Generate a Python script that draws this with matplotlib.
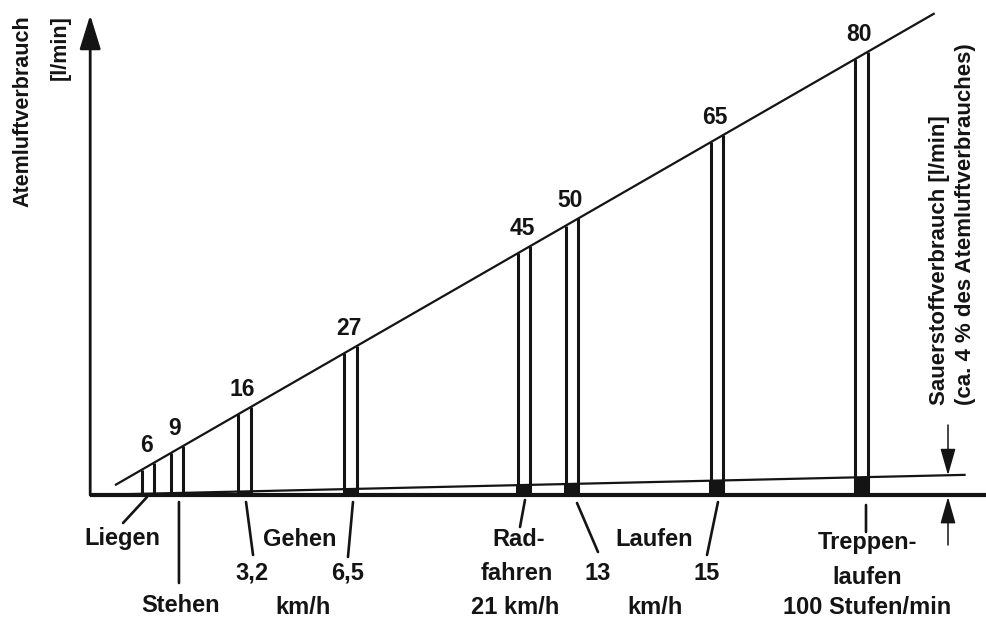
import matplotlib.pyplot as plt
from matplotlib.transforms import offset_copy

# Atemluftverbrauch [l/min] je Tätigkeit
values = [6, 9, 16, 27, 45, 50, 65, 80]
o2_share = 0.04          # Sauerstoff ca. 4 % des Atemluftverbrauchs
diag_offset = 0.8        # schematische Gerade liegt knapp unter y = x

left_title = "Atemluftverbrauch"
left_unit = "[l/min]"
right_title = "Sauerstoffverbrauch [l/min]"
right_note = "(ca. 4 % des Atemluftverbrauches)"

# (text, bar value, dx px, dy px) relative to bar foot on the baseline
bottom_labels = [
    ("Liegen", 6, -26, -43),
    ("Stehen", 9, 4, -110),
    ("3,2", 16, 7.6, -78),
    ("Gehen", 16, 55.6, -45),
    ("km/h", 16, 58.6, -112),
    ("6,5", 27, -2.5, -78),
    ("Rad-", 45, -5, -45),
    ("fahren", 45, -7, -78),
    ("21 km/h", 45, -9, -112),
    ("13", 50, 25.8, -78),
    ("Laufen", 65, -62.8, -45),
    ("15", 65, -9.8, -78),
    ("km/h", 65, -61.8, -112),
    ("Treppen-", 80, 5.6, -48),
    ("laufen", 80, 5.6, -82),
    ("100 Stufen/min", 80, 5.6, -112),
]
# leader lines: bar value, start (dx, dy), end (dx, dy) in px
leaders = [
    (6, (-1, -2), (-25, -28)),
    (9, (2, -7), (2, -88)),
    (16, (1.6, -7), (8.6, -60)),
    (27, (2.5, -7), (-2.5, -62)),
    (45, (1, -5), (-4, -32)),
    (50, (4.8, -8), (25.8, -57)),
    (65, (1.2, -7), (-9.8, -60)),
    (80, (4.6, -10), (4.6, -37)),
]

W, H = 987, 620
X0, SX = 90.2, 9.64      # px of x=0, px per unit
Y0, SY = 495, 5.55       # px (from top) of y=0, px per unit

plt.rcParams["font.family"] = ["Liberation Sans", "DejaVu Sans"]
plt.rcParams["font.weight"] = "bold"
ink = "#141414"

fig = plt.figure(figsize=(W / 100, H / 100), dpi=100)
fig.patch.set_facecolor("white")
ax = fig.add_axes([0, 0, 1, 1])
ax.set_xlim(-X0 / SX, (W - X0) / SX)
ax.set_ylim(-(H - Y0) / SY, Y0 / SY)
ax.axis("off")

def diag(x):
    return x - diag_offset

bar_w = 1.3
x_end = 87.6
ax.plot([2.57, x_end], [diag(2.57), diag(x_end)], color=ink, lw=1.6, solid_capstyle="butt")

# baseline, oxygen line
ax.plot([0, (W - X0) / SX], [0, 0], color=ink, lw=3.0, solid_capstyle="butt")
ox = [0, 90.7]
ax.plot(ox, [o2_share * v for v in ox], color=ink, lw=1.6)

# bars as double lines up to the diagonal
for v in values:
    for xx in (v - bar_w / 2, v + bar_w / 2):
        ax.plot([xx, xx], [0, diag(xx)], color=ink, lw=2.2, solid_capstyle="butt")
ax.bar(values, [o2_share * v for v in values], width=bar_w + 0.3, bottom=0,
       color=ink, align="center")

for v in values:
    ax.annotate(str(v), xy=(v, diag(v)), xytext=(-2, 21), textcoords="offset pixels",
                ha="center", va="center", fontsize=16.5, color=ink)

# y axis with arrow
ax.annotate("", xy=(0, (Y0 - 15) / SY), xytext=(0, 0),
            arrowprops=dict(arrowstyle="-|>,head_length=2.1,head_width=0.65",
                            mutation_scale=10, lw=2.0, color=ink,
                            shrinkA=0, shrinkB=0))

# arrows marking the oxygen band
xa = (948 - X0) / SX
ax.annotate("", xy=(xa, o2_share * xa), xytext=(xa, (Y0 - 425) / SY),
            arrowprops=dict(arrowstyle="-|>,head_length=1.65,head_width=0.47",
                            mutation_scale=10, lw=1.1, color=ink,
                            shrinkA=0, shrinkB=0))
ax.annotate("", xy=(xa, -0.35), xytext=(xa, -(545 - Y0) / SY),
            arrowprops=dict(arrowstyle="-|>,head_length=1.65,head_width=0.47",
                            mutation_scale=10, lw=1.1, color=ink,
                            shrinkA=0, shrinkB=0))

for v, (dx1, dy1), (dx2, dy2) in leaders:
    tr = offset_copy(ax.transData, fig=fig, x=dx1, y=dy1, units="dots")
    ax.annotate("", xy=(v, 0), xycoords=tr, xytext=(dx2 - dx1, dy2 - dy1),
                textcoords="offset pixels",
                arrowprops=dict(arrowstyle="-", lw=1.9, color=ink,
                                shrinkA=0, shrinkB=0))

for txt, v, dx, dy in bottom_labels:
    ax.annotate(txt, xy=(v, 0), xytext=(dx, dy), textcoords="offset pixels",
                ha="center", va="center", fontsize=17, color=ink)

fig.text(23 / W, 1 - 15 / H, left_title, rotation=90, ha="center", va="top",
         fontsize=15.5, color=ink)
fig.text(60 / W, 1 - 15 / H, left_unit, rotation=90, ha="center", va="top",
         fontsize=15.5, color=ink)
fig.text(940 / W, 1 - 405 / H, right_title, rotation=90, ha="center", va="bottom",
         fontsize=16, color=ink)
fig.text(966 / W, 1 - 405 / H, right_note, rotation=90, ha="center", va="bottom",
         fontsize=16, color=ink)

fig.savefig("out.png", dpi=100, facecolor="white")
